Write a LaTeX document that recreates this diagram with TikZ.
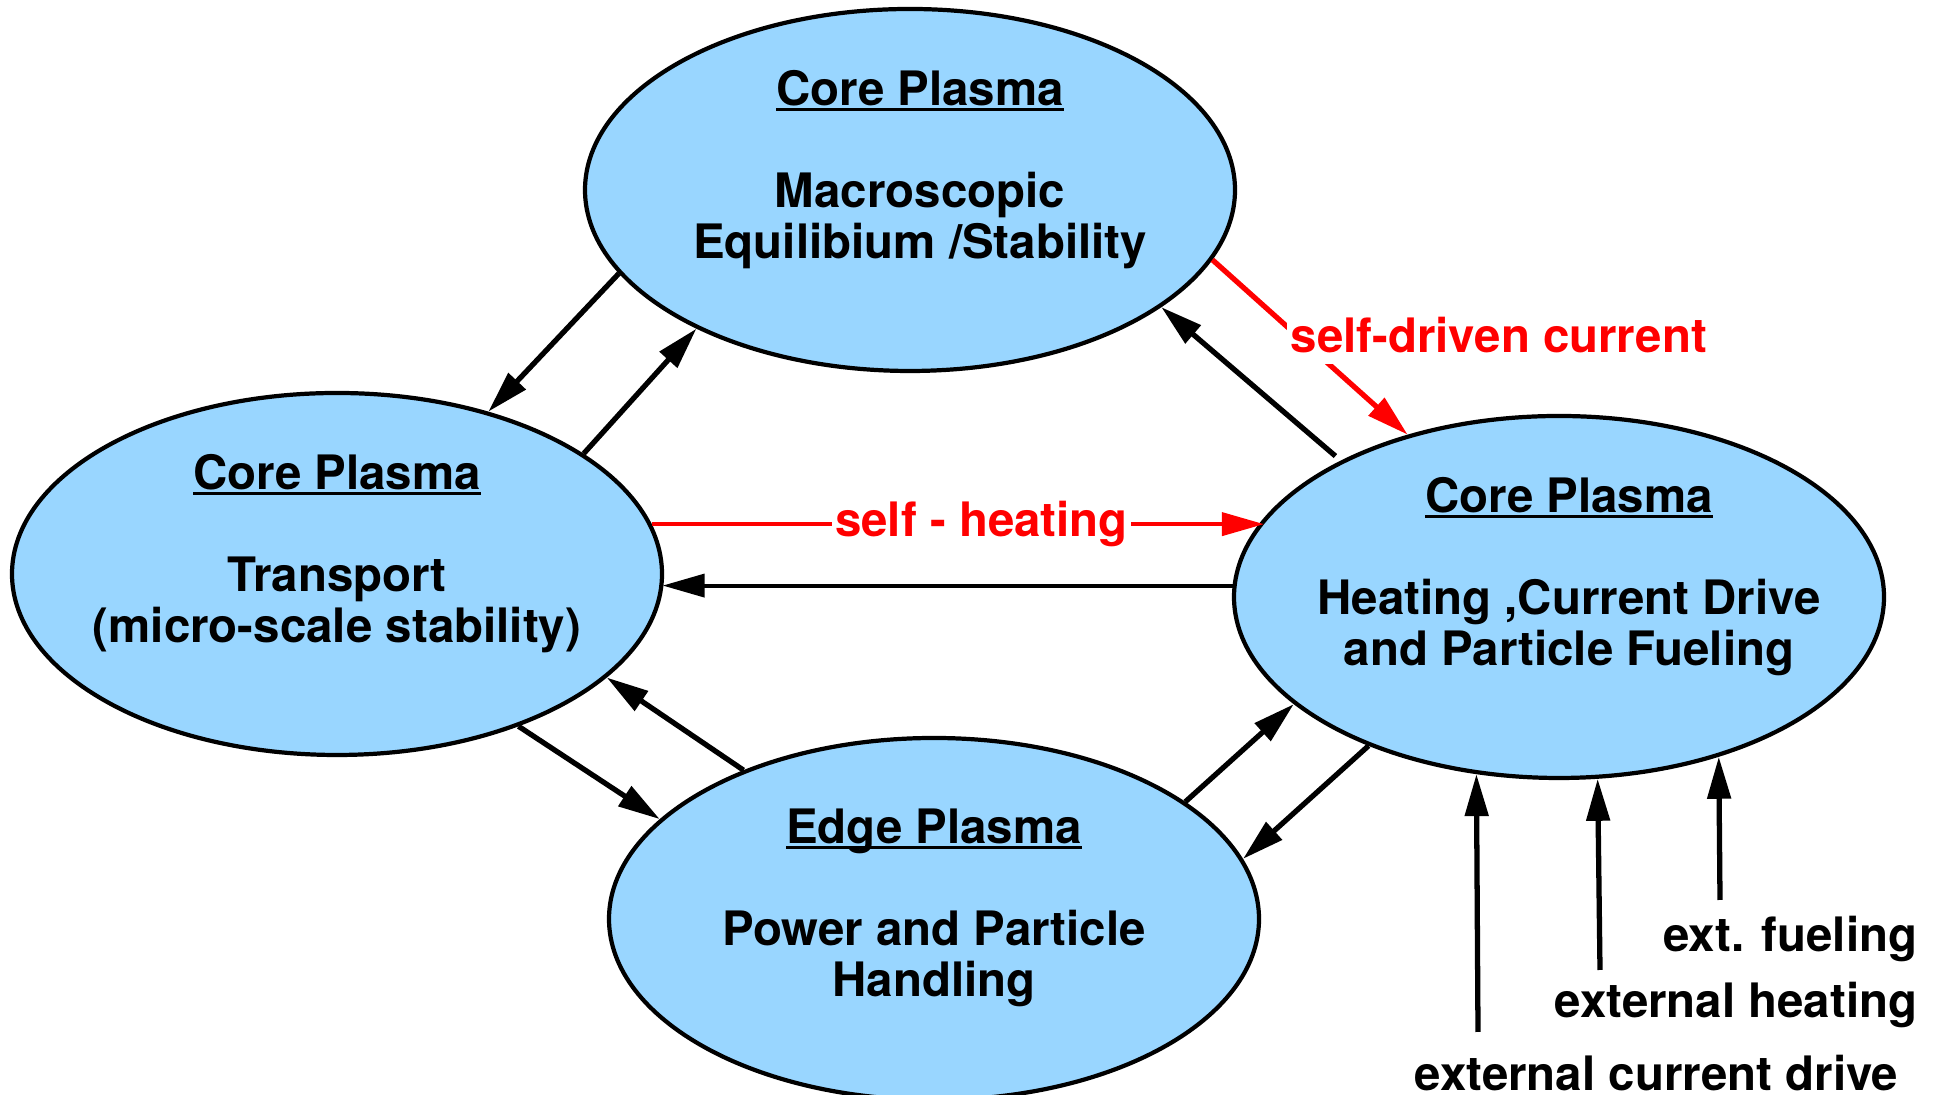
\documentclass[tikz,border=0pt]{standalone}
\usepackage{fontspec}
\setmainfont{TeX Gyre Heros}
\usetikzlibrary{shapes.geometric}
\usetikzlibrary{arrows.meta}
\definecolor{plasmablue}{RGB}{153,214,255}
\newcommand{\plasmatitle}[1]{\setbox0\hbox{#1}\rlap{\rule[-1.6pt]{\wd0}{0.9pt}}\box0}
\newcommand{\rs}{\hspace*{0.2cm}}
\tikzset{%
    plasma/.style={ellipse,draw,line width=1.2pt,fill=plasmablue,minimum width=6.5cm,minimum height=3.62cm,inner sep=-0.4cm,align=center},
    flow/.style={->,>={Triangle[length=4.2mm,width=2.3mm]},line width=1.5pt},
    selfflow/.style={flow,red},
    flowlabel/.style={fill=white,inner sep=1pt,text=red},
    extlabel/.style={anchor=base east,inner sep=0pt},
}
\begin{document}
\begin{tikzpicture}[font=\bfseries\fontsize{13.5pt}{14.5pt}\selectfont]
	
	\useasboundingbox (0,0) rectangle (19.40,10.95);
	
	%plasma regions
	\node[plasma] (equil) at (9.10,9.05) {\rs\plasmatitle{Core Plasma}\\[14.5pt]\rs Macroscopic\\\rs Equilibium /Stability\\\mbox{}};
	\node[plasma] (transp) at (3.37,5.21) {\plasmatitle{Core Plasma}\\[14.5pt]Transport\\(micro-scale stability)\\\mbox{}};
	\node[plasma] (heatcd) at (15.59,4.98) {\rs\plasmatitle{Core Plasma}\\[14.5pt]\rs Heating ,Current Drive\\\rs and Particle Fueling\\\mbox{}};
	\node[plasma] (edge) at (9.34,1.76) {\plasmatitle{Edge Plasma}\\[14.5pt]Power and Particle\\Handling\\[-5pt]\mbox{}};
	%%%%%%%%%%%%%%%%%%%
	
	%couplings
	\draw[flow] (equil.196.4) -- (transp.47.5);
	\draw[flow] (transp.26.7) -- (equil.213.4);
	\draw[flow,shorten <=0.07cm] (heatcd.148.1) -- (equil.335.9);
	\draw[flow,line width=1.1pt] (heatcd.178) -- (heatcd.178 -| transp.357.9);
	\draw[flow] (transp.320.5) -- (edge.160.9);
	\draw[flow] (edge.142.8) -- (transp.339.8);
	\draw[flow] (edge.25.6) -- (heatcd.202.8);
	\draw[flow] (heatcd.218.1) -- (edge.11.7);
	
	%self-driven
	\draw[selfflow] (equil.347.7) -- (heatcd.133.5);
	\draw[selfflow,line width=1.1pt] (transp.9.5) -- (transp.9.5 -| heatcd.165.5);
	\node[flowlabel,anchor=base west,text depth=2pt] (drivenlbl) at (12.865,7.42) {self-driven current};
	\node[flowlabel,anchor=base] (heatlbl) at (9.815,5.58) {self - heating};
	
	%external sources
	\coordinate (cdfoot) at (14.78,0.63);
	\coordinate (hfoot) at (16.00,1.25);
	\coordinate (ffoot) at (17.20,1.95);
	\draw[flow] (cdfoot) -- (heatcd.245.2);
	\draw[flow] (hfoot) -- (heatcd.282.9);
	\draw[flow] (ffoot) -- (heatcd.315.7);
	\node[extlabel] (fuellbl) at (19.18,1.43) {ext. fueling};
	\node[extlabel] (heatinglbl) at (19.18,0.77) {external heating};
	\node[extlabel] (cdlbl) at (18.99,0.045) {external current drive};
	
\end{tikzpicture}
\end{document}
